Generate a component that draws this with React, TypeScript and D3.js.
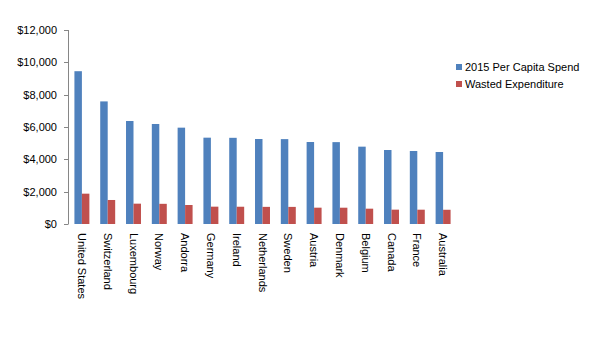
import React from "react";
import * as d3 from "d3";

const countries = ["United States","Switzerland","Luxembourg","Norway","Andorra","Germany","Ireland","Netherlands","Sweden","Austria","Denmark","Belgium","Canada","France","Australia"];
const perCapitaSpend = [9451,7583,6371,6186,5959,5340,5331,5258,5250,5072,5064,4784,4577,4516,4454];
const wastedExpenditure = [1876,1485,1258,1248,1175,1072,1068,1060,1058,1010,1008,948,887,885,880];
const yTicks = [0,2000,4000,6000,8000,10000,12000];
const seriesNames = ["2015 Per Capita Spend","Wasted Expenditure"];
const colors = ["#4F81BD","#C0504D"];

export default function App() {
  const W = 596, H = 363;
  const left = 69, right = 456, top = 30, bottom = 224;
  const x = d3.scaleBand<string>().domain(countries).range([left, right]).paddingInner(0.42).paddingOuter(0.21);
  const sub = d3.scaleBand<number>().domain([0,1]).range([0, x.bandwidth()]);
  const y = d3.scaleLinear().domain([0,12000]).range([bottom, top]);
  const fmt = (v: number) => "$" + d3.format(",")(v);
  const font = "'Liberation Sans', Arial, sans-serif";
  const series = [perCapitaSpend, wastedExpenditure];
  return (
    <svg width={W} height={H} style={{position:"absolute",left:0,top:0,background:"#fff"}} fontFamily={font}>
      <rect x={0} y={0} width={W} height={H} fill="#fff" />
      {series.map((vals, si) => countries.map((c, i) => (
        <rect key={si+"-"+c} x={(x(c) as number) + (sub(si) as number)} y={y(vals[i])}
          width={sub.bandwidth()} height={bottom - y(vals[i])} fill={colors[si]} />
      )))}
      <line x1={left-0.5} x2={left-0.5} y1={top} y2={bottom} stroke="#868686" />
      {yTicks.map(t => (
        <g key={t}>
          <line x1={left-5} x2={left-0.5} y1={Math.round(y(t))+0.5} y2={Math.round(y(t))+0.5} stroke="#868686" />
          <text x={57} y={y(t)} dy="0.35em" textAnchor="end" fontSize={11} fill="#000">{fmt(t)}</text>
        </g>
      ))}
      {countries.map(c => {
        const cx = (x(c) as number) + x.bandwidth()/2;
        return (
          <text key={c} transform={`translate(${cx},233) rotate(90)`} dy="0.35em" fontSize={11} fill="#000">{c}</text>
        );
      })}
      {seriesNames.map((n, i) => (
        <g key={n} transform={`translate(456,${67 + i*17})`}>
          <rect x={0} y={-3} width={6} height={6} fill={colors[i]} />
          <text x={9} y={0} dy="0.35em" fontSize={11} fill="#000">{n}</text>
        </g>
      ))}
    </svg>
  );
}
